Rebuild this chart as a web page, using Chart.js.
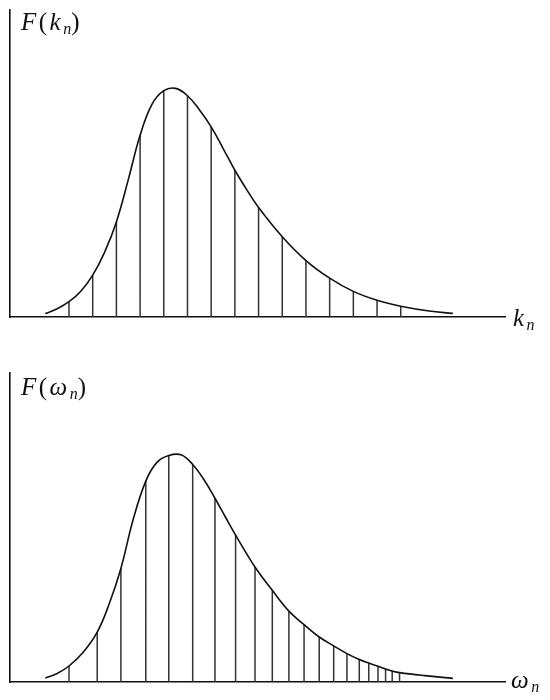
<!DOCTYPE html>
<html>
<head>
<meta charset="utf-8">
<title>F(k_n) and F(ω_n)</title>
<script src="https://cdn.jsdelivr.net/npm/chart.js"></script>
<style>
  body { margin: 0; background: #fff; }
  .panel { position: absolute; left: 0; width: 550px; height: 350px; }
  .lbl {
    position: absolute;
    font-family: "Liberation Serif", "DejaVu Serif", serif;
    font-size: 25px;
    line-height: 24px;
    color: #111;
    white-space: nowrap;
    letter-spacing: 2.5px;
  }
  .lbl sub { font-size: 16px; vertical-align: -4px; line-height: 0; font-style: italic; letter-spacing: 0; }
</style>
</head>
<body>
<canvas id="topChart" class="panel" style="top:0" width="550" height="350"></canvas>
<canvas id="bottomChart" class="panel" style="top:350px" width="550" height="350"></canvas>

<div class="lbl" style="left:21px; top:10px"><i>F</i>(<i>k</i><sub>n</sub>)</div>
<div class="lbl" style="left:513px; top:306px"><i>k</i><sub>n</sub></div>
<div class="lbl" style="left:21px; top:375px"><i>F</i>(<i>ω</i><sub>n</sub>)</div>
<div class="lbl" style="left:511px; top:668px"><i>ω</i><sub>n</sub></div>

<script>
// top panel: equally spaced k_n
const kLines = [1, 2, 3, 4, 5, 6, 7, 8, 9, 10, 11, 12, 13, 14, 15];
const FkLines = [0.067, 0.183, 0.416, 0.795, 0.990, 0.968, 0.832, 0.642, 0.479, 0.351, 0.247, 0.170, 0.112, 0.073, 0.047];
// extra points
const kCurveExtra = [0, 0.5, 1.5, 2.5, 3.5, 4.5, 5.5, 6.5, 7.5, 8.5, 16.2, 17.2];
const FkCurveExtra = [0.015, 0.036, 0.113, 0.283, 0.600, 0.930, 1.0, 0.907, 0.738, 0.557, 0.026, 0.016];

// bottom panel: omega_n, crowding together at high frequency
const wLines = [1.00, 2.19, 3.19, 4.24, 5.21, 6.22, 7.16, 8.03, 8.85, 9.58, 10.28,
                10.92, 11.56, 12.17, 12.73, 13.25, 13.65, 14.04, 14.36, 14.64, 14.95];
const FwLines = [0.070, 0.218, 0.497, 0.879, 0.991, 0.952, 0.804, 0.643, 0.503, 0.401, 0.310,
                 0.251, 0.197, 0.158, 0.124, 0.098, 0.083, 0.069, 0.057, 0.048, 0.041];
const wCurveExtra = [0, 0.5, 1.6, 2.69, 3.71, 4.71, 5.73, 6.71, 7.6, 16.0, 17.2];
const FwCurveExtra = [0.017, 0.037, 0.130, 0.340, 0.712, 0.961, 0.994, 0.883, 0.722, 0.028, 0.016];

function makeChart(id, xs, fs, exX, exF, yMax, pad) {
    const curve = xs.map((x, i) => ({ x: x, y: fs[i] }))
        .concat(exX.map((x, i) => ({ x: x, y: exF[i] })))
        .sort((a, b) => a.x - b.x);

    // each stick: baseline -> value, then a gap
    const sticks = [];
    xs.forEach((x, i) => {
        sticks.push({ x: x, y: 0 }, { x: x, y: fs[i] }, { x: x, y: null });
    });

    const axis = {
        type: 'linear',
        ticks: { display: false },
        grid: { display: false, drawTicks: false },
        border: { display: true, color: '#111', width: 1.6 }
    };

    return new Chart(document.getElementById(id), {
        type: 'scatter',
        data: {
            datasets: [
                {
                    data: curve,
                    showLine: true,
                    borderColor: '#111',
                    borderWidth: 1.6,
                    pointRadius: 0,
                    tension: 0.4,
                    fill: false
                },
                {
                    data: sticks,
                    showLine: true,
                    spanGaps: false,
                    borderColor: '#333',
                    borderWidth: 1.5,
                    pointRadius: 0,
                    fill: false
                }
            ]
        },
        options: {
            responsive: false,
            animation: false,
            events: [],
            layout: { padding: pad },
            plugins: { legend: { display: false }, tooltip: { enabled: false } },
            scales: {
                x: Object.assign({}, axis, { min: -1.49, max: 19.4 }),
                y: Object.assign({}, axis, { min: 0, max: yMax })
            }
        }
    });
}

makeChart('topChart', kLines, FkLines, kCurveExtra, FkCurveExtra, 1.343,
    { left: 10, right: 45, top: 10, bottom: 33 });
makeChart('bottomChart', wLines, FwLines, wCurveExtra, FwCurveExtra, 1.352,
    { left: 10, right: 45, top: 23, bottom: 18 });
</script>
</body>
</html>
